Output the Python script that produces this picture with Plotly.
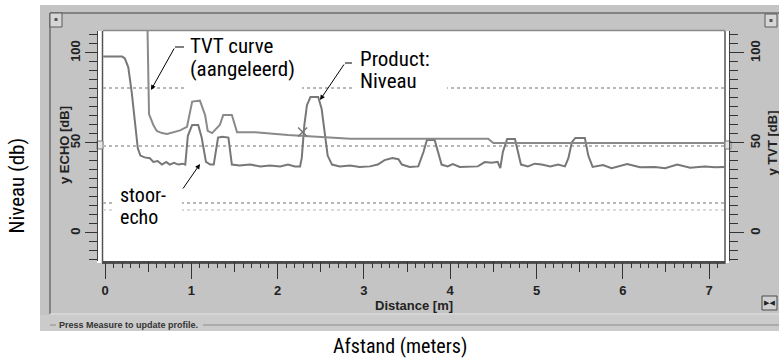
import plotly.graph_objects as go

W, H = 779, 358


def fx(px):
    return px / W


def fy(py):
    return 1 - py / H


# ---------------- data ----------------
echo_dist = [-0.02, 0.20, 0.23, 0.27, 0.31, 0.35, 0.38, 0.41, 0.46, 0.52, 0.56, 0.61, 0.66,
             0.71, 0.75, 0.80, 0.85, 0.90, 0.93, 0.96, 1.01, 1.08, 1.12, 1.17, 1.22, 1.26,
             1.31, 1.36, 1.43, 1.47, 1.56, 1.68, 1.80, 1.91, 2.03, 2.12, 2.20, 2.26, 2.28,
             2.31, 2.34, 2.38, 2.47, 2.51, 2.55, 2.58, 2.63, 2.72, 2.84, 2.95, 3.07, 3.16,
             3.24, 3.33, 3.40, 3.44, 3.53, 3.63, 3.69, 3.73, 3.82, 3.86, 3.90, 3.97, 4.03,
             4.11, 4.23, 4.32, 4.40, 4.48, 4.55, 4.58, 4.61, 4.66, 4.75, 4.79, 4.82, 4.90,
             4.98, 5.06, 5.16, 5.25, 5.33, 5.37, 5.41, 5.45, 5.56, 5.60, 5.65, 5.77, 5.87,
             6.05, 6.20, 6.37, 6.49, 6.63, 6.78, 6.95, 7.07, 7.18]
echo_db = [98, 98, 97, 92, 78, 60, 47, 43, 42, 41.5, 39.5, 40, 38,
           39.5, 38, 39, 38, 38.5, 38, 54, 60, 60, 53, 39.5, 38, 38,
           53, 53.5, 53, 38, 37.5, 38, 37, 37.5, 37, 38, 37, 37, 41.7,
           60, 71, 75.5, 75.5, 69, 54, 43, 38, 37, 37.5, 36.7, 37, 38,
           40.5, 41.7, 41, 38, 36.7, 37, 45, 51.7, 51.7, 45, 38, 37, 38.3,
           36.7, 36.7, 37, 39.4, 39, 39.5, 36, 45, 52.2, 52.2, 45, 38, 37,
           38.5, 38, 37, 38, 37, 41.7, 50.5, 52.8, 52.8, 43, 36.7, 37.8, 36,
           38.3, 36.5, 36.7, 36, 38, 36.3, 37, 36.5, 36.7]

tvt_dist = [-0.02, 0.49, 0.51, 0.56, 0.60, 0.66, 0.72, 0.87, 0.95, 1.01, 1.10, 1.16, 1.19,
            1.24, 1.33, 1.37, 1.47, 1.53, 1.74, 2.12, 2.70, 2.84, 4.44, 4.50, 7.18]
tvt_db = [120, 120, 66, 60, 56.7, 55.5, 55, 57, 59, 73, 73.5, 65.5, 56.7,
          55.5, 60, 65.5, 65.5, 56, 56, 54.4, 52.7, 52.3, 52.3, 50, 50]

cross_dist = [2.29]
cross_db = [56.1]

x_tick_vals = [0, 1, 2, 3, 4, 5, 6, 7]
x_half_ticks = [0.5, 1.5, 2.5, 3.5, 4.5, 5.5, 6.5]
y_tick_vals = [0, 50, 100]
grid_db = [16.7, 48.3, 80.5]
grid_db_faint = [12.9]

X_RANGE = [-0.0232, 7.184]
Y_RANGE = [-15.56, 112.2]

CURVE = "#777777"
PANEL = "#c4c4c4"
NARROW = "Liberation Sans Narrow, Arial Narrow, Roboto Condensed, Roboto, sans-serif"
ARIAL = "Liberation Sans, Arial, sans-serif"

fig = go.Figure()
fig.add_trace(go.Scatter(x=echo_dist, y=echo_db, mode="lines",
                         line=dict(color=CURVE, width=2), hoverinfo="skip"))
fig.add_trace(go.Scatter(x=tvt_dist, y=tvt_db, mode="lines",
                         line=dict(color="#8a8a8a", width=2), hoverinfo="skip"))
fig.add_trace(go.Scatter(x=cross_dist, y=cross_db, mode="markers",
                         marker=dict(symbol="x-thin-open", size=9, color="#777777",
                                     line=dict(color="#777777", width=1.5)),
                         hoverinfo="skip"))

shapes = []


def prect(x0, y0, x1, y1, fill=None, line=None, lw=0, layer="below"):
    shapes.append(dict(type="rect", xref="paper", yref="paper",
                       x0=fx(x0), x1=fx(x1), y0=fy(y1), y1=fy(y0),
                       fillcolor=fill if fill else "rgba(0,0,0,0)",
                       line=dict(color=line if line else "rgba(0,0,0,0)", width=lw),
                       layer=layer))


def pline(x0, y0, x1, y1, color, width=1, layer="below"):
    shapes.append(dict(type="line", xref="paper", yref="paper",
                       x0=fx(x0), x1=fx(x1), y0=fy(y0), y1=fy(y1),
                       line=dict(color=color, width=width), layer=layer))


# gray application panel
prect(40, 5, 779, 331, fill=PANEL)
prect(40, 315, 779, 331, fill="#cbcbcb")
pline(50, 13, 779, 13, "#6e6e6e", 1.5)
pline(50, 13, 50, 314, "#6e6e6e", 1.5)
pline(50, 314, 779, 314, "#e6e6e6", 1)
pline(203, 325, 779, 325, "#8c8c8c", 1)
pline(50, 325, 56, 325, "#8c8c8c", 1)
# white chart area
prect(97, 31, 729, 263, fill="white")
# plot frame
pline(103, 30.5, 725, 30.5, "#8a8a8a", 1.5)
pline(102.5, 31, 102.5, 263, "#555555", 1.5)
pline(725, 31, 725, 263, "#555555", 1.5)
pline(102, 263.5, 725.5, 263.5, "#555555", 1.2)
# small window icons
prect(50, 13, 62, 27, fill="#d6d6d6", line="#5a5a5a", lw=1)
prect(54.5, 18, 57.5, 21, fill="#555555")
prect(765, 14, 777, 27, fill="#d6d6d6", line="#5a5a5a", lw=1)
prect(769.5, 19, 772.5, 22, fill="#555555")
prect(762, 296, 777, 310, fill="#d0d0d0", line="#4a4a4a", lw=1)
# slider handles on the y axes
prect(97, 141, 103, 149, fill="#e6e6e6", line="#7a7a7a", lw=1)
prect(725, 141, 731, 149, fill="#e6e6e6", line="#7a7a7a", lw=1)
# white boxes behind the callout texts (they interrupt the dotted grid)
prect(185, 34, 302, 97, fill="white", layer="above")
prect(352, 48, 447, 96, fill="white", layer="above")
prect(113, 184, 182, 228, fill="white", layer="above")
# leader dashes
pline(175, 47, 184, 47, "black", 1, layer="above")
pline(345, 63, 352, 63, "black", 1, layer="above")

annotations = []


def text(px, py, s, size, family=NARROW, color="black", xanchor="left",
         angle=0, bold=False):
    annotations.append(dict(xref="paper", yref="paper", x=fx(px), y=fy(py), text=s,
                            showarrow=False, xanchor=xanchor, yanchor="middle",
                            textangle=angle,
                            font=dict(family=family, size=size, color=color,
                                      weight="bold" if bold else "normal")))


# callouts
text(188, 45.7, "TVT curve", 21)
text(188, 68.7, "(aangeleerd)", 21)
text(358, 59.4, "Product:", 21)
text(358, 81, "Niveau", 21)
text(118, 195, "stoor-", 20)
text(118, 216.5, "echo", 20)

# outer axis titles
text(16.5, 186, "Niveau (db)", 21, xanchor="center", angle=-90)
text(400, 346, "Afstand (meters)", 20, xanchor="center")

# instrument axis titles
text(414, 305, "Distance [m]", 13, family=ARIAL, color="#222222", xanchor="center", bold=True)
text(64, 145, "y ECHO [dB]", 13, family=ARIAL, color="#222222", xanchor="center",
     angle=-90, bold=True)
text(771.5, 143, "y TVT [dB]", 13, family=ARIAL, color="#222222", xanchor="center",
     angle=-90, bold=True)
text(57, 325, "Press Measure to update profile.", 9, family=ARIAL, color="#333333",
     bold=True)
text(769.5, 303, "▶◀", 7, family="DejaVu Sans", color="#222222", xanchor="center")


def arrow(hx_px, hy_px, tx_px, ty_px):
    annotations.append(dict(xref="x", yref="y",
                            x=(hx_px - 105) / 86.3, y=(233 - hy_px) / 1.8,
                            ax=tx_px - hx_px, ay=ty_px - hy_px,
                            text="", showarrow=True, arrowhead=2, arrowsize=1,
                            arrowwidth=1, arrowcolor="black", standoff=0))


arrow(151, 90, 175, 47)
arrow(320, 100, 345, 63)
arrow(200, 164, 182, 190)

tickfont = dict(family=ARIAL, size=13, color="#222222", weight="bold")

fig.update_layout(
    width=W, height=H, template="none",
    margin=dict(l=0, r=0, t=0, b=0, pad=0, autoexpand=False),
    paper_bgcolor="white", plot_bgcolor="white",
    showlegend=False,
    shapes=shapes, annotations=annotations,
    xaxis=dict(domain=[fx(103), fx(725)], range=X_RANGE, anchor="y",
               showline=True, linecolor="#4a4a4a", linewidth=2,
               ticks="outside", tickvals=x_tick_vals, ticklen=16, tickwidth=1,
               tickcolor="#333333", tickfont=tickfont,
               minor=dict(dtick=0.1, tick0=0, ticklen=5, tickcolor="#333333",
                          ticks="outside", showgrid=False),
               showgrid=False, zeroline=False, automargin=False),
    xaxis2=dict(overlaying="x", anchor="y", range=X_RANGE, side="bottom",
                ticks="outside", tickvals=x_half_ticks, ticklen=10, tickwidth=1,
                tickcolor="#333333", showticklabels=False, showgrid=False,
                zeroline=False, showline=False, automargin=False),
    yaxis=dict(domain=[fy(261), fy(31)], range=Y_RANGE, anchor="free",
               position=fx(97), side="left",
               showline=True, linecolor="#444444", linewidth=1,
               ticks="outside", tickvals=y_tick_vals, ticklen=12, tickwidth=1,
               tickcolor="#333333", tickangle=-90, tickfont=tickfont,
               minor=dict(dtick=5, tick0=0, ticklen=8, tickcolor="#333333",
                          ticks="outside", showgrid=False),
               showgrid=False, zeroline=False, automargin=False),
    yaxis2=dict(overlaying="y", anchor="free", position=fx(729), side="right",
                range=Y_RANGE, showline=True, linecolor="#444444", linewidth=1,
                ticks="outside", tickvals=y_tick_vals, ticklen=14, tickwidth=1,
                tickcolor="#333333", tickangle=-90, tickfont=tickfont,
                minor=dict(dtick=5, tick0=0, ticklen=8, tickcolor="#333333",
                           ticks="outside", showgrid=False),
                showgrid=False, zeroline=False, automargin=False),
    yaxis3=dict(overlaying="y", anchor="x", range=Y_RANGE, side="left",
                tickvals=grid_db, showticklabels=False, ticks="",
                showgrid=True, gridcolor="#b8b8b8", griddash="dot", gridwidth=1.5,
                showline=False, zeroline=False, automargin=False),
    yaxis4=dict(overlaying="y", anchor="x", range=Y_RANGE, side="left",
                tickvals=grid_db_faint, showticklabels=False, ticks="",
                showgrid=True, gridcolor="#dadada", griddash="dot", gridwidth=1.5,
                showline=False, zeroline=False, automargin=False),
)

# bind the extra axes to an invisible trace so that they are drawn
fig.add_trace(go.Scatter(x=[None], y=[None], xaxis="x2", yaxis="y2", showlegend=False,
                         hoverinfo="skip"))
fig.add_trace(go.Scatter(x=[None], y=[None], xaxis="x", yaxis="y3", showlegend=False,
                         hoverinfo="skip"))
fig.add_trace(go.Scatter(x=[None], y=[None], xaxis="x", yaxis="y4", showlegend=False,
                         hoverinfo="skip"))

fig.write_html("out.html", config={"displayModeBar": False},
               post_script="document.body.style.margin='0';document.body.style.overflow='hidden';")
